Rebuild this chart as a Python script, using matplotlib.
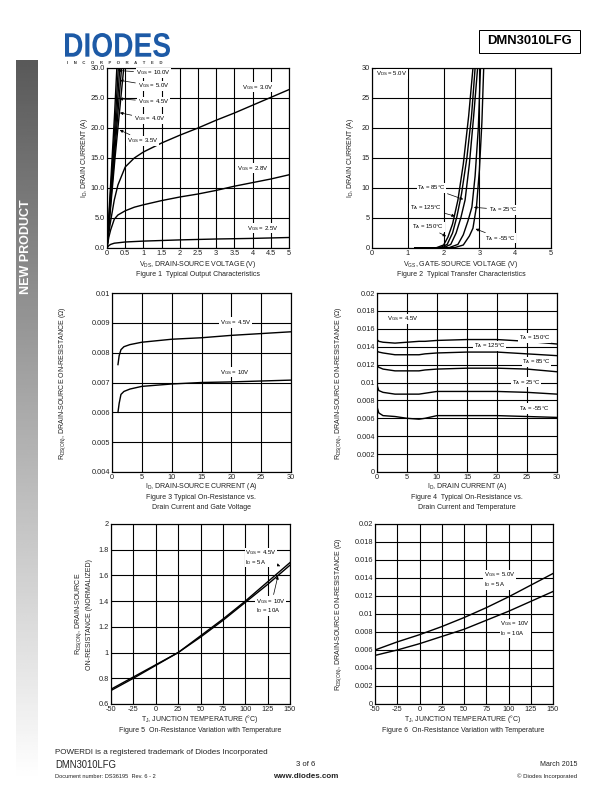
import matplotlib
matplotlib.use("Agg")
import matplotlib.pyplot as plt
import numpy as np
from matplotlib.textpath import TextPath
from matplotlib.patches import PathPatch, Rectangle
from matplotlib.font_manager import FontProperties
from matplotlib.transforms import Affine2D

plt.rcParams["font.family"] = ["Liberation Sans", "DejaVu Sans"]
plt.rcParams["mathtext.fontset"] = "custom"
plt.rcParams["mathtext.rm"] = "Liberation Sans"
plt.rcParams["mathtext.it"] = "Liberation Sans:italic"
plt.rcParams["mathtext.bf"] = "Liberation Sans:bold"

# ---- Figure 1: output characteristics (VDS, ID) ----
f1_vds_10 = [0, 0.07, 0.14, 0.21, 0.27]
f1_id_10 = [0, 7.5, 15, 22.5, 30]
f1_vds_5 = [0, 0.08, 0.16, 0.24, 0.31]
f1_id_5 = [0, 7.5, 15, 22.5, 30]
f1_vds_45 = [0, 0.09, 0.18, 0.27, 0.35]
f1_id_45 = [0, 7.5, 15, 22.5, 30]
f1_vds_4 = [0, 0.1, 0.2, 0.3, 0.40]
f1_id_4 = [0, 7.5, 15, 22.5, 30]
f1_vds_35 = [0, 0.11, 0.22, 0.34, 0.46]
f1_id_35 = [0, 7.5, 15, 22.5, 30]
f1_vds_3 = [0, 0.05, 0.1, 0.2, 0.3, 0.5, 0.75, 1, 1.5, 2, 2.5, 3, 3.5, 4, 4.5, 5]
f1_id_3 = [0, 2.5, 4.5, 8, 10.5, 13.5, 15, 16, 17.5, 18.8, 20, 21.3, 22.5, 23.8, 25.1, 26.4]
f1_vds_28 = [0, 0.05, 0.1, 0.2, 0.3, 0.5, 0.75, 1, 1.5, 2, 2.5, 3, 3.5, 4, 4.5, 5]
f1_id_28 = [0, 1.8, 3, 4.8, 5.5, 6.2, 6.8, 7.2, 7.9, 8.5, 9, 9.6, 10.3, 10.9, 11.5, 12.2]
f1_vds_25 = [0, 0.05, 0.1, 0.2, 0.5, 1, 1.5, 2, 3, 4, 5]
f1_id_25 = [0, 0.4, 0.6, 0.8, 1.0, 1.15, 1.25, 1.35, 1.5, 1.6, 1.75]

# ---- Figure 2: transfer characteristics (VGS, ID) ----
f2_vgs_150 = [1.2, 1.8, 2.0, 2.12, 2.25, 2.4, 2.55, 2.7, 2.82]
f2_id_150 = [0, 0.05, 0.5, 1.8, 4, 8, 14, 22, 30]
f2_vgs_125 = [1.2, 1.9, 2.1, 2.25, 2.37, 2.5, 2.65, 2.78, 2.88]
f2_id_125 = [0, 0.05, 0.6, 2.5, 5.2, 9, 15, 22, 30]
f2_vgs_85 = [1.2, 2.0, 2.2, 2.35, 2.48, 2.6, 2.72, 2.84, 2.95]
f2_id_85 = [0, 0.05, 0.6, 2.5, 5, 8, 14, 22, 30]
f2_vgs_25 = [1.2, 2.15, 2.4, 2.55, 2.68, 2.79, 2.88, 2.97, 3.03]
f2_id_25 = [0, 0.05, 0.6, 2.2, 4.5, 6.8, 12, 20, 30]
f2_vgs_m55 = [1.2, 2.3, 2.55, 2.72, 2.82, 2.92, 3.0, 3.07, 3.12]
f2_id_m55 = [0, 0.05, 0.5, 2, 3.3, 7, 13, 21, 30]

# ---- Figure 3: RDS(ON) vs ID and VGS ----
f3_id = [1, 1.2, 1.5, 2, 3, 5, 10, 15, 20, 25, 30]
f3_r_45 = [0.0076, 0.0079, 0.0081, 0.0082, 0.00827, 0.00835, 0.00845, 0.0085, 0.00858, 0.00864, 0.0087]
f3_r_10 = [0.0060, 0.0063, 0.0066, 0.0067, 0.00678, 0.00687, 0.00695, 0.0070, 0.00702, 0.00705, 0.00708]

# ---- Figure 4: RDS(ON) vs ID and temperature ----
f4_id = [0, 0.3, 1, 3, 5, 7, 8, 10, 15, 20, 25, 30]
f4_r_150 = [0.0148, 0.0146, 0.0145, 0.0144, 0.0145, 0.0146, 0.0146, 0.0147, 0.0148, 0.0148, 0.0146, 0.0143]
f4_r_125 = [0.0135, 0.0134, 0.0133, 0.0131, 0.0131, 0.0131, 0.0132, 0.0133, 0.0134, 0.0134, 0.0132, 0.0130]
f4_r_85 = [0.0119, 0.0117, 0.0115, 0.0113, 0.0113, 0.0113, 0.0114, 0.0115, 0.0116, 0.0116, 0.0115, 0.0112]
f4_r_25 = [0.0097, 0.0091, 0.0089, 0.0087, 0.0087, 0.0087, 0.0088, 0.0090, 0.0090, 0.0090, 0.0089, 0.0087]
f4_r_m55 = [0.0073, 0.0066, 0.0063, 0.0062, 0.0060, 0.0059, 0.0060, 0.0063, 0.0063, 0.0063, 0.0062, 0.0061]

# ---- Figure 5 / 6: RDS(ON) vs junction temperature ----
tj = [-50, -25, 0, 25, 50, 75, 100, 125, 150]
f5_norm_45 = [0.715, 0.81, 0.905, 1.0, 1.13, 1.26, 1.40, 1.55, 1.70]
f5_norm_10 = [0.705, 0.80, 0.90, 1.0, 1.12, 1.25, 1.39, 1.53, 1.68]
f6_r_5 = [0.0060, 0.0069, 0.0077, 0.0086, 0.0096, 0.0107, 0.0119, 0.0132, 0.0145]
f6_r_10 = [0.0054, 0.0060, 0.0067, 0.0075, 0.0083, 0.0093, 0.0103, 0.0114, 0.0125]

# tick labels
f1_xticks = [0, 0.5, 1, 1.5, 2, 2.5, 3, 3.5, 4, 4.5, 5]
f1_xlabels = ["0", "0.5", "1", "1.5", "2", "2.5", "3", "3.5", "4", "4.5", "5"]
f1_yticks = [0, 5, 10, 15, 20, 25, 30]
f1_ylabels = ["0.0", "5.0", "10.0", "15.0", "20.0", "25.0", "30.0"]
f2_xticks = [0, 1, 2, 3, 4, 5]
f2_yticks = [0, 5, 10, 15, 20, 25, 30]
f3_xticks = [0, 5, 10, 15, 20, 25, 30]
f3_yticks = [0.004, 0.005, 0.006, 0.007, 0.008, 0.009, 0.01]
f3_ylabels = ["0.004", "0.005", "0.006", "0.007", "0.008", "0.009", "0.01"]
f4_yticks = [0, 0.002, 0.004, 0.006, 0.008, 0.01, 0.012, 0.014, 0.016, 0.018, 0.02]
f4_ylabels = ["0", "0.002", "0.004", "0.006", "0.008", "0.01", "0.012", "0.014",
              "0.016", "0.018", "0.02"]
f5_xticks = [-50, -25, 0, 25, 50, 75, 100, 125, 150]
f5_yticks = [0.6, 0.8, 1.0, 1.2, 1.4, 1.6, 1.8, 2.0]
f5_ylabels = ["0.6", "0.8", "1", "1.2", "1.4", "1.6", "1.8", "2"]

# page is 612 x 792 points, drawn at 72 dpi so 1 pt = 1 px
W, H = 612, 792
fig = plt.figure(figsize=(8.5, 11), dpi=72)

# overlay axes in page pixels for the page furniture
page = fig.add_axes([0, 0, 1, 1], zorder=0)
page.set_xlim(0, W)
page.set_ylim(H, 0)
page.axis("off")


def chart(x0, y0, x1, y1):
    """Adds an axes given its page pixel box."""
    return fig.add_axes([x0 / W, 1 - y1 / H, (x1 - x0) / W, (y1 - y0) / H], zorder=2)


def setup(ax, xlim, ylim, xticks, yticks, xlabels=None, ylabels=None):
    ax.set_xlim(*xlim)
    ax.set_ylim(*ylim)
    ax.set_xticks(xticks)
    ax.set_yticks(yticks)
    ax.set_xticklabels(xlabels if xlabels else [str(t) for t in xticks])
    ax.set_yticklabels(ylabels if ylabels else [str(t) for t in yticks])
    ax.grid(True, color="black", lw=1.1)
    ax.set_axisbelow(True)
    ax.tick_params(length=0, labelsize=7.4, pad=2, colors="#222222")
    for s in ax.spines.values():
        s.set_linewidth(1.2)


LBL = dict(fontsize=6, bbox=dict(boxstyle="square,pad=0.1", fc="white", ec="none"))
ARR = dict(arrowstyle="-|>", color="black", lw=0.7, mutation_scale=6)
CW = dict(color="black", lw=1.4)

# ---------- Figure 1 ----------
ax1 = chart(107, 68, 289, 248)
setup(ax1, (0, 5), (0, 30), f1_xticks, f1_yticks, f1_xlabels, f1_ylabels)
for vx, iy in [(f1_vds_10, f1_id_10), (f1_vds_5, f1_id_5), (f1_vds_45, f1_id_45),
               (f1_vds_4, f1_id_4), (f1_vds_35, f1_id_35), (f1_vds_3, f1_id_3),
               (f1_vds_28, f1_id_28), (f1_vds_25, f1_id_25)]:
    ax1.plot(vx, iy, **CW)
ax1.annotate(r"V$_{\rm GS}$ = 10.0V", xy=(0.25, 29.6), xytext=(0.8, 29.2),
             va="center", arrowprops=ARR, **LBL)
ax1.annotate(r"V$_{\rm GS}$ = 5.0V", xy=(0.3, 28.0), xytext=(0.85, 27.0),
             va="center", arrowprops=ARR, **LBL)
ax1.annotate(r"V$_{\rm GS}$ = 4.5V", xy=(0.29, 24.9), xytext=(0.85, 24.4),
             va="center", arrowprops=ARR, **LBL)
ax1.annotate(r"V$_{\rm GS}$ = 4.0V", xy=(0.3, 22.6), xytext=(0.75, 21.5),
             va="center", arrowprops=ARR, **LBL)
ax1.annotate(r"V$_{\rm GS}$ = 3.5V", xy=(0.3, 19.8), xytext=(0.55, 17.9),
             va="center", arrowprops=ARR, **LBL)
ax1.text(3.72, 26.8, r"V$_{\rm GS}$ = 3.0V", va="center", **LBL)
ax1.text(3.58, 13.3, r"V$_{\rm GS}$ = 2.8V", va="center", **LBL)
ax1.text(3.85, 3.3, r"V$_{\rm GS}$ = 2.5V", va="center", **LBL)

# ---------- Figure 2 ----------
ax2 = chart(372, 68, 551, 248)
setup(ax2, (0, 5), (0, 30), f2_xticks, f2_yticks)
for vx, iy in [(f2_vgs_150, f2_id_150), (f2_vgs_125, f2_id_125), (f2_vgs_85, f2_id_85),
               (f2_vgs_25, f2_id_25), (f2_vgs_m55, f2_id_m55)]:
    ax2.plot(vx, iy, **CW)
ax2.text(0.12, 29.0, r"V$_{\rm DS}$ = 5.0V", va="center", **LBL)
ax2.annotate(r"T$_{\rm A}$ = 85°C", xy=(2.6, 8.0), xytext=(1.26, 10.0),
             va="center", arrowprops=ARR, **LBL)
ax2.annotate(r"T$_{\rm A}$ = 125°C", xy=(2.37, 5.2), xytext=(1.06, 6.7),
             va="center", arrowprops=ARR, **LBL)
ax2.annotate(r"T$_{\rm A}$ = 150°C", xy=(2.12, 1.8), xytext=(1.12, 3.5),
             va="center", arrowprops=ARR, **LBL)
ax2.annotate(r"T$_{\rm A}$ = 25°C", xy=(2.79, 6.8), xytext=(3.27, 6.4),
             va="center", arrowprops=ARR, **LBL)
ax2.annotate(r"T$_{\rm A}$ = -55°C", xy=(2.84, 3.3), xytext=(3.16, 1.6),
             va="center", arrowprops=ARR, **LBL)

# ---------- Figure 3 ----------
ax3 = chart(112, 293, 291, 472)
setup(ax3, (0, 30), (0.004, 0.01), f3_xticks, f3_yticks, None, f3_ylabels)
ax3.plot(f3_id, f3_r_45, **CW)
ax3.plot(f3_id, f3_r_10, **CW)
ax3.text(18.1, 0.00901, r"V$_{\rm GS}$ = 4.5V", va="center", **LBL)
ax3.text(18.1, 0.00735, r"V$_{\rm GS}$ = 10V", va="center", **LBL)

# ---------- Figure 4 ----------
ax4 = chart(377, 293, 557, 472)
setup(ax4, (0, 30), (0, 0.02), f3_xticks, f4_yticks, None, f4_ylabels)
for r in [f4_r_150, f4_r_125, f4_r_85, f4_r_25, f4_r_m55]:
    ax4.plot(f4_id, r, **CW)
ax4.text(1.7, 0.0171, r"V$_{\rm GS}$ = 4.5V", va="center", **LBL)
ax4.text(23.6, 0.0150, r"T$_{\rm A}$ = 150°C", va="center", **LBL)
ax4.text(16.1, 0.0141, r"T$_{\rm A}$ = 125°C", va="center", **LBL)
ax4.text(24.2, 0.0123, r"T$_{\rm A}$ = 85°C", va="center", **LBL)
ax4.text(22.5, 0.01005, r"T$_{\rm A}$ = 25°C", va="center", **LBL)
ax4.text(23.6, 0.0071, r"T$_{\rm A}$ = -55°C", va="center", **LBL)

# ---------- Figure 5 ----------
ax5 = chart(111, 524, 290, 704)
setup(ax5, (-50, 150), (0.6, 2.0), f5_xticks, f5_yticks, None, f5_ylabels)
ax5.plot(tj, f5_norm_45, **CW)
ax5.plot(tj, f5_norm_10, **CW)
ax5.annotate(r"V$_{\rm GS}$ = 4.5V" + "\n" + r"I$_{\rm D}$ = 5A", xy=(141, 1.665),
             xytext=(100, 1.74), va="center", linespacing=1.1,
             arrowprops=ARR, **LBL)
ax5.annotate(r"V$_{\rm GS}$ = 10V" + "\n" + r"I$_{\rm D}$ = 10A", xy=(137, 1.61),
             xytext=(112, 1.36), va="center", linespacing=1.1,
             arrowprops=ARR, **LBL)

# ---------- Figure 6 ----------
ax6 = chart(375, 524, 553, 704)
setup(ax6, (-50, 150), (0, 0.02), f5_xticks, f4_yticks, None, f4_ylabels)
ax6.plot(tj, f6_r_5, **CW)
ax6.plot(tj, f6_r_10, **CW)
ax6.text(72, 0.0138, r"V$_{\rm GS}$ = 5.0V" + "\n" + r"I$_{\rm D}$ = 5A", va="center",
         linespacing=1.1, **LBL)
ax6.text(91, 0.0084, r"V$_{\rm GS}$ = 10V" + "\n" + r"I$_{\rm D}$ = 10A", va="center",
         linespacing=1.1, **LBL)

# ---------- axis labels and captions ----------
TXT = dict(fontsize=7, ha="center", va="center", color="#222222")
page.text(198, 264, r"V$_{\rm DS}$, DRAIN-SOURCE VOLTAGE (V)", **TXT)
page.text(198, 275, "Figure 1  Typical Output Characteristics", **TXT)
page.text(84, 158, r"I$_{\rm D}$, DRAIN CURRENT (A)", rotation=90, **TXT)

page.text(461, 264, r"V$_{\rm GS}$, GATE-SOURCE VOLTAGE (V)", **TXT)
page.text(461, 275, "Figure 2  Typical Transfer Characteristics", **TXT)
page.text(351, 158, r"I$_{\rm D}$, DRAIN CURRENT (A)", rotation=90, **TXT)

page.text(201, 487, r"I$_{\rm D}$, DRAIN-SOURCE CURRENT (A)", **TXT)
page.text(201, 497.5, "Figure 3 Typical On-Resistance vs.", **TXT)
page.text(201, 507.5, "Drain Current and Gate Voltage", **TXT)
page.text(63, 383, r"R$_{\rm DS(ON)}$, DRAIN-SOURCE ON-RESISTANCE (Ω)", rotation=90, **TXT)

page.text(467, 487, r"I$_{\rm D}$, DRAIN CURRENT (A)", **TXT)
page.text(467, 497.5, "Figure 4  Typical On-Resistance vs.", **TXT)
page.text(467, 507.5, "Drain Current and Temperature", **TXT)
page.text(339, 383, r"R$_{\rm DS(ON)}$, DRAIN-SOURCE ON-RESISTANCE (Ω)", rotation=90, **TXT)

page.text(200, 719, r"T$_{\rm J}$, JUNCTION TEMPERATURE (°C)", **TXT)
page.text(200, 731, "Figure 5  On-Resistance Variation with Temperature", **TXT)
page.text(83, 614, r"R$_{\rm DS(ON)}$, DRAIN-SOURCE" + "\n" + "ON-RESISTANCE (NORMALIZED)",
          rotation=90, linespacing=1.3, **TXT)

page.text(463, 719, r"T$_{\rm J}$, JUNCTION TEMPERATURE (°C)", **TXT)
page.text(463, 731, "Figure 6  On-Resistance Variation with Temperature", **TXT)
page.text(339, 614, r"R$_{\rm DS(ON)}$, DRAIN-SOURCE ON-RESISTANCE (Ω)", rotation=90, **TXT)

# ---------- header ----------
blue = "#1d5aa6"
tp = TextPath((0, 0), "DIODES", size=1, prop=FontProperties(family="Liberation Sans", weight="bold"))
ext = tp.get_extents()
sx = 105 / ext.width
sy = 24 / ext.height
tr = Affine2D().translate(-ext.x0, -ext.y0).scale(sx, -sy).translate(65, 57)
page.add_patch(PathPatch(tr.transform_path(tp), fc=blue, ec="none"))
page.text(115, 62.5, "I     N     C     O     R     P     O     R     A     T     E     D",
          fontsize=4.2, ha="center", va="center", color="#333333", fontweight="bold")

page.add_patch(Rectangle((479, 30), 101, 23, fill=False, ec="black", lw=1.0))
page.text(529.5, 41.5, "DMN3010LFG", fontsize=13, fontweight="bold", ha="center", va="center")

# ---------- sidebar ----------
grad = np.linspace(0.35, 1.0, 256).reshape(-1, 1)
page.imshow(grad, cmap="gray", vmin=0, vmax=1, aspect="auto",
            extent=(15.5, 37.5, 780, 60), zorder=0)
page.text(26.5, 247, "NEW PRODUCT", rotation=90, fontsize=12.5, fontweight="bold",
          color="white", ha="center", va="center")
page.set_xlim(0, W)
page.set_ylim(H, 0)

# ---------- footer ----------
page.text(55, 752, "POWERDI is a registered trademark of Diodes Incorporated", fontsize=8,
          va="center", color="#222222")
page.text(55, 764.5, "DMN3010LFG", fontsize=9.5, va="center", color="#222222")
page.text(55, 776, "Document number: DS36195  Rev. 6 - 2", fontsize=5.6, va="center",
          color="#222222")
page.text(306, 764, "3 of 6", fontsize=7.8, ha="center", va="center", color="#222222")
page.text(306, 776, "www.diodes.com", fontsize=8, ha="center", va="center",
          fontweight="bold", color="#222222")
page.text(577, 764, "March 2015", fontsize=7, ha="right", va="center", color="#222222")
page.text(577, 776, "© Diodes Incorporated", fontsize=6, ha="right", va="center",
          color="#222222")

fig.savefig("out.png", dpi=72)
